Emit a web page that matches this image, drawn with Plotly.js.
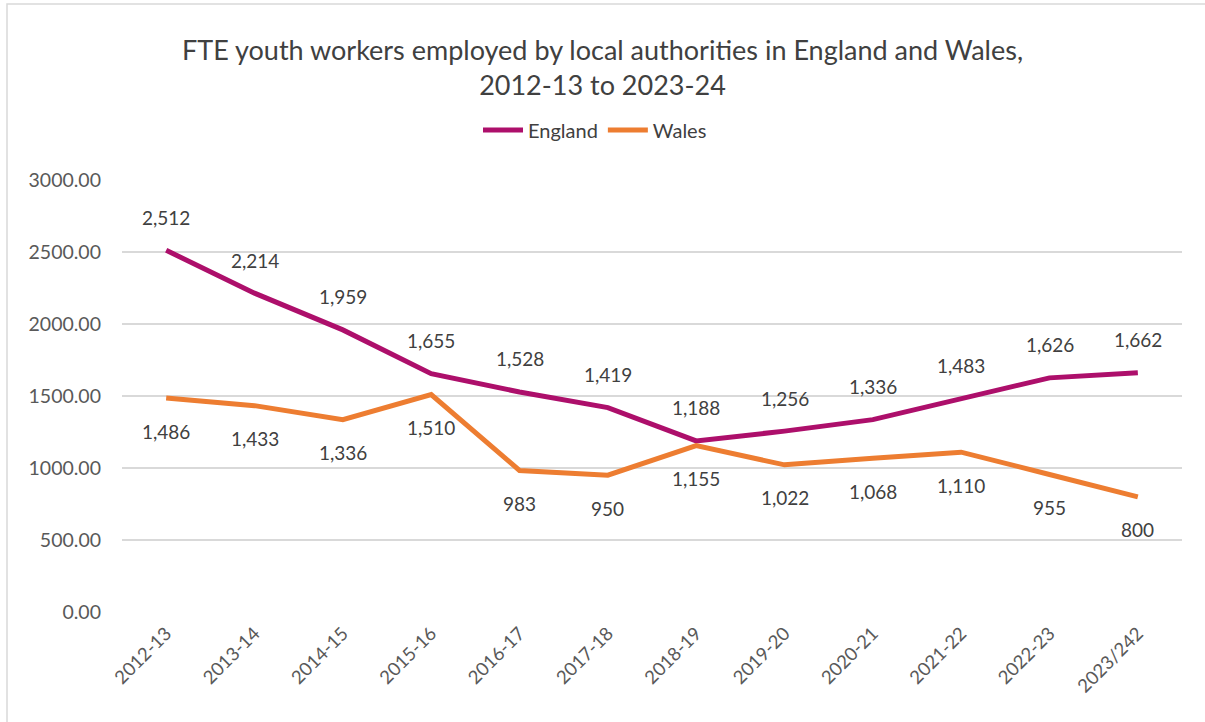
<!DOCTYPE html>
<html><head><meta charset="utf-8">
<script src="https://cdn.plot.ly/plotly-3.0.1.min.js"></script>
<style>html,body{margin:0;padding:0;background:#fff;}#chart{width:1205px;height:722px;}</style>
</head><body><div id="chart"></div>
<script>
const categories = ["2012-13","2013-14","2014-15","2015-16","2016-17","2017-18","2018-19","2019-20","2020-21","2021-22","2022-23","2023/242"];
const england = [2512,2214,1959,1655,1528,1419,1188,1256,1336,1483,1626,1662];
const wales = [1486,1433,1336,1510,983,950,1155,1022,1068,1110,955,800];
const yTicks = [0,500,1000,1500,2000,2500,3000];
const colEng = "#AD0F6B", colWal = "#ED7D31";
const fmt = v => v.toLocaleString("en-GB");
const font = "Lato, 'Open Sans', sans-serif";
const ann = [];
categories.forEach((c,i)=>{
  ann.push({x:c,y:england[i],text:fmt(england[i]),showarrow:false,yshift:33,font:{size:19,color:"#404040",family:font}});
  ann.push({x:c,y:wales[i],text:fmt(wales[i]),showarrow:false,yshift:-33,font:{size:19,color:"#404040",family:font}});
});
const W=1205,H=722,L=122,R=23,T=180,B=110;
const pw=W-L-R, ph=H-T-B;
const traces=[
 {x:categories,y:england,name:"England",type:"scatter",mode:"lines",line:{color:colEng,width:5}},
 {x:categories,y:wales,name:"Wales",type:"scatter",mode:"lines",line:{color:colWal,width:5}}
];
const layout={
 width:W,height:H,margin:{l:L,r:R,t:T,b:B},
 paper_bgcolor:"#fff",plot_bgcolor:"#fff",
 font:{family:font,color:"#595959"},
 title:{text:"FTE youth workers employed by local authorities in England and Wales,<br>2012-13 to 2023-24",x:0.5,xref:"container",y:1-60/722,yref:"container",yanchor:"middle",font:{size:27,color:"#404040",family:font}},
 showlegend:true,
 legend:{orientation:"h",x:(478-L)/pw,xanchor:"left",y:(612-130)/ph,yanchor:"middle",font:{size:20,color:"#404040",family:font},itemwidth:40,tracegroupgap:0},
 xaxis:{type:"category",tickangle:-45,tickfont:{size:18.5,color:"#595959"},showgrid:false,zeroline:false,showline:false,ticks:"",ticklabelstandoff:6,range:[-0.5,categories.length-0.5]},
 yaxis:{range:[0,3000],tickvals:yTicks,ticktext:yTicks.map(v=>v.toFixed(2)),tickfont:{size:19.5,color:"#595959"},gridcolor:"#d9d9d9",gridwidth:1.3,zeroline:false,showline:false,ticks:"",ticklabelstandoff:20,automargin:false},
 annotations:ann,
 shapes:[{type:"rect",xref:"paper",yref:"paper",x0:(7-L)/pw,x1:(1230-L)/pw,y0:(612-740)/ph,y1:(612-4)/ph,line:{color:"#d9d9d9",width:1.5},fillcolor:"rgba(0,0,0,0)",layer:"below"}]
};
Plotly.newPlot("chart",traces,layout,{displayModeBar:false,staticPlot:true});
</script></body></html>
